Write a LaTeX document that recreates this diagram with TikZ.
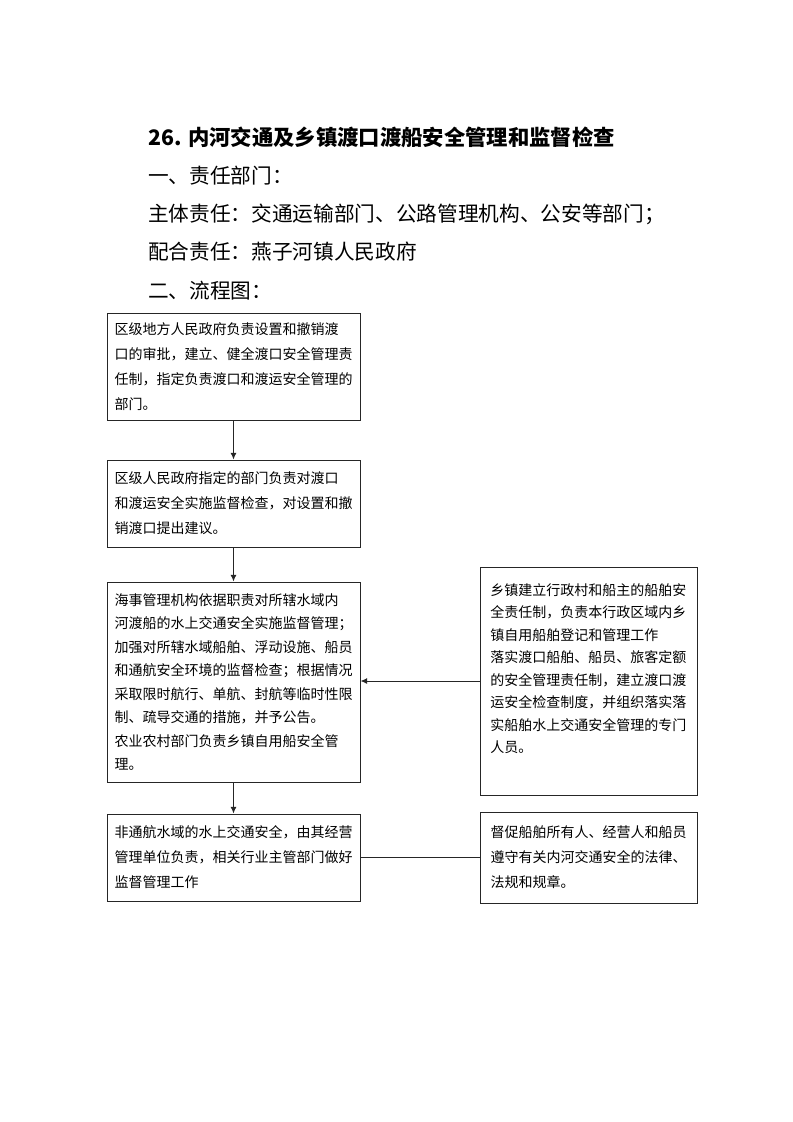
\documentclass[tikz,border=0pt]{standalone}
\usepackage{fontspec}
\setmainfont{Noto Sans CJK SC}
\usetikzlibrary{arrows.meta}
\tikzset{
  box/.style={draw=black!85, line width=0.75pt, inner sep=0pt, align=left,
    font=\fontsize{10.5pt}{18.75pt}\selectfont},
  txt/.style={inner sep=0pt, align=left},
  head/.style={inner sep=0pt, anchor=west, font=\fontsize{15.5pt}{18pt}\selectfont},
  arr/.style={draw=black!85, line width=0.75pt, -{Latex[length=5pt,width=4.5pt]}},
  link/.style={draw=black!85, line width=0.75pt}
}
\begin{document}
\begin{tikzpicture}[x=0.75pt,y=-0.75pt]
\useasboundingbox[fill=white] (0,0) rectangle (793,1122);
\node[head, font=\fontsize{16pt}{18pt}\selectfont\bfseries] (title) at (148,137) {26.\hspace{0.3em}内河交通及乡镇渡口渡船安全管理和监督检查};
\node[head] (h1) at (148,176) {一、责任部门：};
\node[head] (h2) at (148,214) {主体责任：交通运输部门、公路管理机构、公安等部门；};
\node[head] (h3) at (148,252) {配合责任：燕子河镇人民政府};
\node[head] (h4) at (148,291) {二、流程图：};

\node[box, minimum width=189.75pt, minimum height=80.25pt] (b1) at (233.5,366.5)
 {区级地方人民政府负责设置和撤销渡\\口的审批，建立、健全渡口安全管理责\\任制，指定负责渡口和渡运安全管理的\\部门。};
\node[box, minimum width=189.75pt, minimum height=65.25pt] (b2) at (233.5,503.5)
 {区级人民政府指定的部门负责对渡口\\和渡运安全实施监督检查，对设置和撤\\销渡口提出建议。};
\node[box, minimum width=189.75pt, minimum height=150pt,
  font=\fontsize{10.5pt}{17.6pt}\selectfont] (b3) at (233.5,682)
 {海事管理机构依据职责对所辖水域内\\河渡船的水上交通安全实施监督管理；\\加强对所辖水域船舶、浮动设施、船员\\和通航安全环境的监督检查；根据情况\\采取限时航行、单航、封航等临时性限\\制、疏导交通的措施，并予公告。\\农业农村部门负责乡镇自用船安全管\\理。};
\node[box, minimum width=162.75pt, minimum height=171pt] (b4) at (588.5,681) {};
\node[txt, anchor=north west, font=\fontsize{10.5pt}{16.9pt}\selectfont] (t4) at (490,583)
 {乡镇建立行政村和船主的船舶安\\全责任制，负责本行政区域内乡\\镇自用船舶登记和管理工作\\落实渡口船舶、船员、旅客定额\\的安全管理责任制，建立渡口渡\\运安全检查制度，并组织落实落\\实船舶水上交通安全管理的专门\\人员。};
\node[box, minimum width=189.75pt, minimum height=65.25pt] (b5) at (233.5,857.5)
 {非通航水域的水上交通安全，由其经营\\管理单位负责，相关行业主管部门做好\\监督管理工作};
\node[box, minimum width=162.75pt, minimum height=68.25pt] (b6) at (588.5,857.5)
 {督促船舶所有人、经营人和船员\\遵守有关内河交通安全的法律、\\法规和规章。};

\draw[arr] (b1) -- (b2);
\draw[arr] (b2) -- (b3);
\draw[arr] (b3) -- (b5);
\draw[arr] (b4.west) -- (b3.east |- b4.west);
\draw[link] (b5) -- (b6);
\end{tikzpicture}
\end{document}
